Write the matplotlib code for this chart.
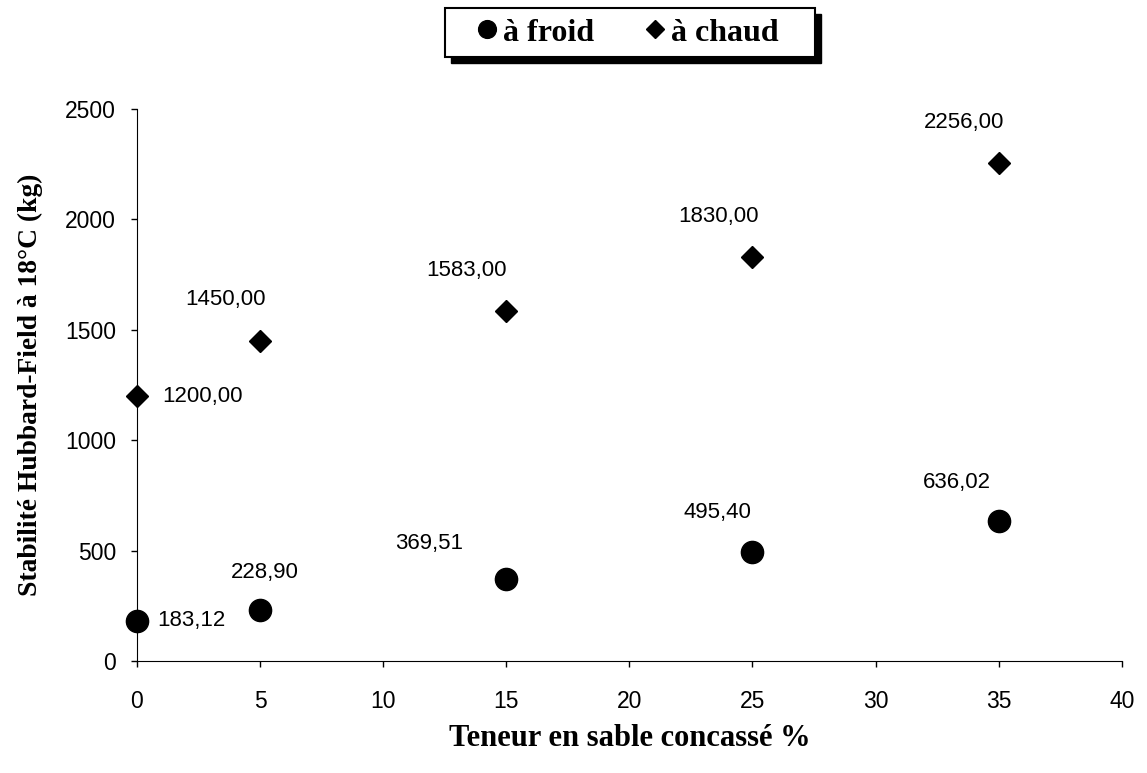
import matplotlib.pyplot as plt
from matplotlib.patches import Rectangle

# Teneur en sable concassé (%) et stabilité Hubbard-Field (kg)
sable = [0, 5, 15, 25, 35]
froid = [183.12, 228.90, 369.51, 495.40, 636.02]
chaud = [1200.00, 1450.00, 1583.00, 1830.00, 2256.00]

# décalage des étiquettes (pixels) par point
off_froid = [(20, 0), (5, 38), (-77, 36), (-35, 39), (-42, 38)]
off_chaud = [(25, 0), (-35, 41), (-40, 41), (-34, 40), (-35, 40)]


def fmt(v):
    return f"{v:.2f}".replace(".", ",")


W, H = 1147, 773
fig = plt.figure(figsize=(W / 100, H / 100), dpi=100)
ax = fig.add_axes([0.1194, 0.1449, 0.8586, 0.7141])

ax.plot(sable, froid, 'o', color='black', markersize=16, label='à froid', clip_on=False)
ax.plot(sable, chaud, 'D', color='black', markersize=11.5, label='à chaud', clip_on=False)

for serie, offs in ((froid, off_froid), (chaud, off_chaud)):
    for x, y, (dx, dy) in zip(sable, serie, offs):
        ha = 'left' if dy == 0 else 'center'
        ax.annotate(fmt(y), (x, y), xytext=(dx, dy), textcoords='offset pixels',
                    ha=ha, va='center', fontsize=16, family='Liberation Sans')

ax.set_xlim(0, 40)
ax.set_ylim(0, 2500)
ax.set_xticks(range(0, 41, 5))
ax.set_yticks(range(0, 2501, 500))
ax.spines['top'].set_visible(False)
ax.spines['right'].set_visible(False)
ax.tick_params(axis='both', labelsize=16.5, length=4, width=1)
ax.tick_params(axis='x', pad=17)
ax.tick_params(axis='y', pad=11)
for lab in ax.get_xticklabels() + ax.get_yticklabels():
    lab.set_family('Liberation Sans')

ax.set_xlabel('Teneur en sable concassé %', fontsize=22, fontweight='bold',
              family='Liberation Serif', labelpad=8)
ax.set_ylabel('Stabilité Hubbard-Field à 18°C (kg)', fontsize=19.8, fontweight='bold',
              family='Liberation Serif', labelpad=16)

# cadre de la légende avec ombre portée
x0, y0, bw, bh = 445, 8, 370, 49
fig.patches.append(Rectangle(((x0 + 6) / W, 1 - (y0 + bh + 6) / H), bw / W, bh / H,
                             transform=fig.transFigure, facecolor='black',
                             edgecolor='black', zorder=1))
fig.patches.append(Rectangle((x0 / W, 1 - (y0 + bh) / H), bw / W, bh / H,
                             transform=fig.transFigure, facecolor='white',
                             edgecolor='black', linewidth=1.5, zorder=2))

fig.legend(loc='center', bbox_to_anchor=(628 / W, 1 - 33 / H), ncol=2, frameon=False,
           prop={'family': 'Liberation Serif', 'weight': 'bold', 'size': 23},
           handletextpad=0.2, columnspacing=1.6, handlelength=0.6,
           borderpad=0, borderaxespad=0, markerscale=0.8)

fig.savefig('out.png', dpi=100)
